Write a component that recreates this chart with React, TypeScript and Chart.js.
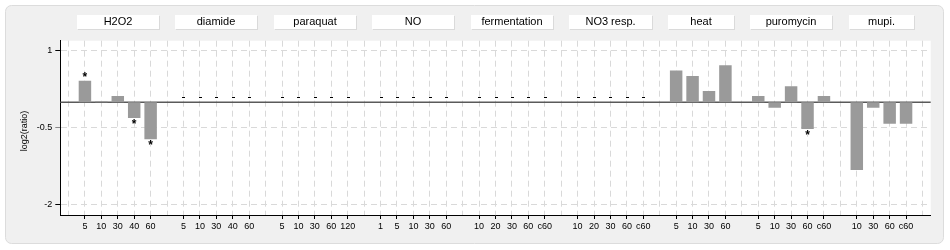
import React, { useEffect, useRef } from 'react';
import { Chart, registerables } from 'chart.js';

Chart.register(...registerables);

// ---- data ----
const groupNames = ['H2O2', 'diamide', 'paraquat', 'NO', 'fermentation', 'NO3 resp.', 'heat', 'puromycin', 'mupi.'];

const h2o2Times = ['5', '10', '30', '40', '60'];
const diamideTimes = ['5', '10', '30', '40', '60'];
const paraquatTimes = ['5', '10', '30', '60', '120'];
const noTimes = ['1', '5', '10', '30', '60'];
const fermentationTimes = ['10', '20', '30', '60', 'c60'];
const no3Times = ['10', '20', '30', '60', 'c60'];
const heatTimes = ['5', '10', '30', '60'];
const puromycinTimes = ['5', '10', '30', '60', 'c60'];
const mupiTimes = ['10', '30', '60', 'c60'];

// null = no data (drawn as "-")
const h2o2Values = [0.42, 0.02, 0.12, -0.31, -0.72];
const diamideValues = [null, null, null, null, null];
const paraquatValues = [null, null, null, null, null];
const noValues = [null, null, null, null, null];
const fermentationValues = [null, null, null, null, null];
const no3Values = [null, null, null, null, null];
const heatValues = [0.62, 0.51, 0.22, 0.72];
const puromycinValues = [0.12, -0.11, 0.31, -0.52, 0.12];
const mupiValues = [-1.32, -0.11, -0.42, -0.42];

const h2o2Significant = [true, false, false, true, true];
const diamideSignificant = [false, false, false, false, false];
const paraquatSignificant = [false, false, false, false, false];
const noSignificant = [false, false, false, false, false];
const fermentationSignificant = [false, false, false, false, false];
const no3Significant = [false, false, false, false, false];
const heatSignificant = [false, false, false, false];
const puromycinSignificant = [false, false, false, true, false];
const mupiSignificant = [false, false, false, false];

const yTickValues = [1, -0.5, -2];
const yMin = -2.2;
const yMax = 1.2;
const yTitle = 'log2(ratio)';

// ---- build slot table ----
const groupTimes = [h2o2Times, diamideTimes, paraquatTimes, noTimes, fermentationTimes, no3Times, heatTimes, puromycinTimes, mupiTimes];
const groupValues: (number | null)[][] = [h2o2Values, diamideValues, paraquatValues, noValues, fermentationValues, no3Values, heatValues, puromycinValues, mupiValues];
const groupSig = [h2o2Significant, diamideSignificant, paraquatSignificant, noSignificant, fermentationSignificant, no3Significant, heatSignificant, puromycinSignificant, mupiSignificant];

const labels: string[] = [''];
const values: (number | null)[] = [null];
const missing: boolean[] = [false];
const significant: boolean[] = [false];
const groupSpans: { name: string; first: number; last: number }[] = [];
groupNames.forEach((name, gi) => {
  const first = labels.length;
  groupTimes[gi].forEach((t, i) => {
    const v = groupValues[gi][i];
    labels.push(t);
    values.push(v);
    missing.push(v === null);
    significant.push(groupSig[gi][i]);
  });
  groupSpans.push({ name, first, last: labels.length - 1 });
  labels.push('');
  values.push(null);
  missing.push(false);
  significant.push(false);
});

const FONT = '"Liberation Sans", Arial, sans-serif';

const decorPlugin = {
  id: 'decor',
  beforeDraw(chart: any) {
    const ctx = chart.ctx;
    const { left, right, top, bottom } = chart.chartArea;
    ctx.save();
    ctx.fillStyle = '#ffffff';
    ctx.fillRect(0, 0, chart.width, chart.height);
    // panel
    const px = 5.5, py = 5.5, pw = 938, ph = 238, r = 6;
    ctx.beginPath();
    ctx.moveTo(px + r, py);
    ctx.lineTo(px + pw - r, py);
    ctx.arcTo(px + pw, py, px + pw, py + r, r);
    ctx.lineTo(px + pw, py + ph - r);
    ctx.arcTo(px + pw, py + ph, px + pw - r, py + ph, r);
    ctx.lineTo(px + r, py + ph);
    ctx.arcTo(px, py + ph, px, py + ph - r, r);
    ctx.lineTo(px, py + r);
    ctx.arcTo(px, py, px + r, py, r);
    ctx.closePath();
    ctx.fillStyle = '#f0f0f0';
    ctx.fill();
    ctx.strokeStyle = '#dcdcdc';
    ctx.lineWidth = 1;
    ctx.stroke();
    // plot area
    ctx.fillStyle = '#ffffff';
    ctx.fillRect(left, top, right - left, bottom - top);
    // group label boxes
    const xs = chart.scales.x;
    const half = (xs.getPixelForValue(1) - xs.getPixelForValue(0)) / 2;
    groupSpans.forEach((g) => {
      const x0 = Math.round(xs.getPixelForValue(g.first) - half);
      const x1 = Math.round(xs.getPixelForValue(g.last) + half);
      ctx.fillStyle = '#dadada';
      ctx.fillRect(x0 + 1, 16, x1 - x0, 14);
      ctx.fillStyle = '#ffffff';
      ctx.fillRect(x0, 15, x1 - x0, 14);
      ctx.fillStyle = '#000000';
      ctx.font = '11px ' + FONT;
      ctx.textAlign = 'center';
      ctx.textBaseline = 'middle';
      ctx.fillText(g.name, (x0 + x1) / 2, 22);
    });
    // y title
    ctx.translate(25, 131);
    ctx.rotate(-Math.PI / 2);
    ctx.font = '9px ' + FONT;
    ctx.fillStyle = '#000000';
    ctx.textAlign = 'center';
    ctx.textBaseline = 'middle';
    ctx.fillText(yTitle, 0, 0);
    ctx.restore();
  },
  beforeDatasetsDraw(chart: any) {
    const ctx = chart.ctx;
    const { left, right } = chart.chartArea;
    const y0 = chart.scales.y.getPixelForValue(0);
    ctx.save();
    ctx.strokeStyle = '#5a5a5a';
    ctx.lineWidth = 1.5;
    ctx.beginPath();
    ctx.moveTo(left, y0);
    ctx.lineTo(right, y0);
    ctx.stroke();
    ctx.restore();
  },
  afterDatasetsDraw(chart: any) {
    const ctx = chart.ctx;
    const xs = chart.scales.x;
    const ys = chart.scales.y;
    const y0 = ys.getPixelForValue(0);
    ctx.save();
    ctx.fillStyle = '#000000';
    ctx.font = 'bold 12px ' + FONT;
    ctx.textAlign = 'center';
    ctx.textBaseline = 'middle';
    for (let i = 0; i < labels.length; i++) {
      const x = xs.getPixelForValue(i);
      if (missing[i]) {
        ctx.fillRect(Math.round(x) - 1, Math.round(y0) - 5, 3, 1);
      }
      const v = values[i];
      if (significant[i] && v !== null) {
        const yv = ys.getPixelForValue(v);
        if (v >= 0) ctx.fillText('*', x, yv - 3);
        else ctx.fillText('*', x, yv + 7);
      }
    }
    ctx.restore();
  },
};

export default function App() {
  const canvasRef = useRef<HTMLCanvasElement | null>(null);

  useEffect(() => {
    if (!canvasRef.current) return;
    const chart = new Chart(canvasRef.current, {
      type: 'bar',
      data: {
        labels,
        datasets: [
          {
            data: values as any,
            backgroundColor: '#9a9a9a',
            borderWidth: 0,
            barPercentage: 0.76,
            categoryPercentage: 1,
          },
        ],
      },
      options: {
        responsive: false,
        animation: false,
        devicePixelRatio: 1,
        layout: { padding: { left: 0, top: 40.7, right: 19.3, bottom: 0 } },
        plugins: { legend: { display: false }, tooltip: { enabled: false } },
        scales: {
          x: {
            type: 'category',
            offset: true,
            grid: {
              offset: false,
              color: '#d9d9d9',
              lineWidth: 1,
              drawTicks: true,
              tickLength: 4,
              tickColor: (c: any) => (labels[c.index] ? '#000000' : 'rgba(0,0,0,0)'),
            },
            border: { display: true, color: '#000000', width: 1, dash: [6, 4] },
            ticks: {
              autoSkip: false,
              maxRotation: 0,
              minRotation: 0,
              padding: 2,
              color: '#000000',
              font: { family: FONT, size: 9 },
            },
            afterFit: (s: any) => {
              s.height = 35;
            },
          },
          y: {
            min: yMin,
            max: yMax,
            grid: {
              color: '#d9d9d9',
              lineWidth: 1,
              tickLength: 5,
              tickColor: (c: any) => (c.tick && c.tick.value === -0.5 ? '#888888' : '#000000'),
            },
            border: { display: true, color: '#000000', width: 1, dash: [6, 4] },
            ticks: {
              padding: 3,
              color: '#000000',
              font: { family: FONT, size: 9 },
              callback: (v: any) => String(v),
            },
            afterBuildTicks: (s: any) => {
              s.ticks = yTickValues.map((v) => ({ value: v }));
            },
            afterFit: (s: any) => {
              s.width = 60.3;
            },
          },
        },
      },
      plugins: [decorPlugin],
    });
    return () => chart.destroy();
  }, []);

  return (
    <div style={{ position: 'absolute', left: 0, top: 0, width: 950, height: 250 }}>
      <canvas ref={canvasRef} width={950} height={250} style={{ display: 'block' }} />
    </div>
  );
}
